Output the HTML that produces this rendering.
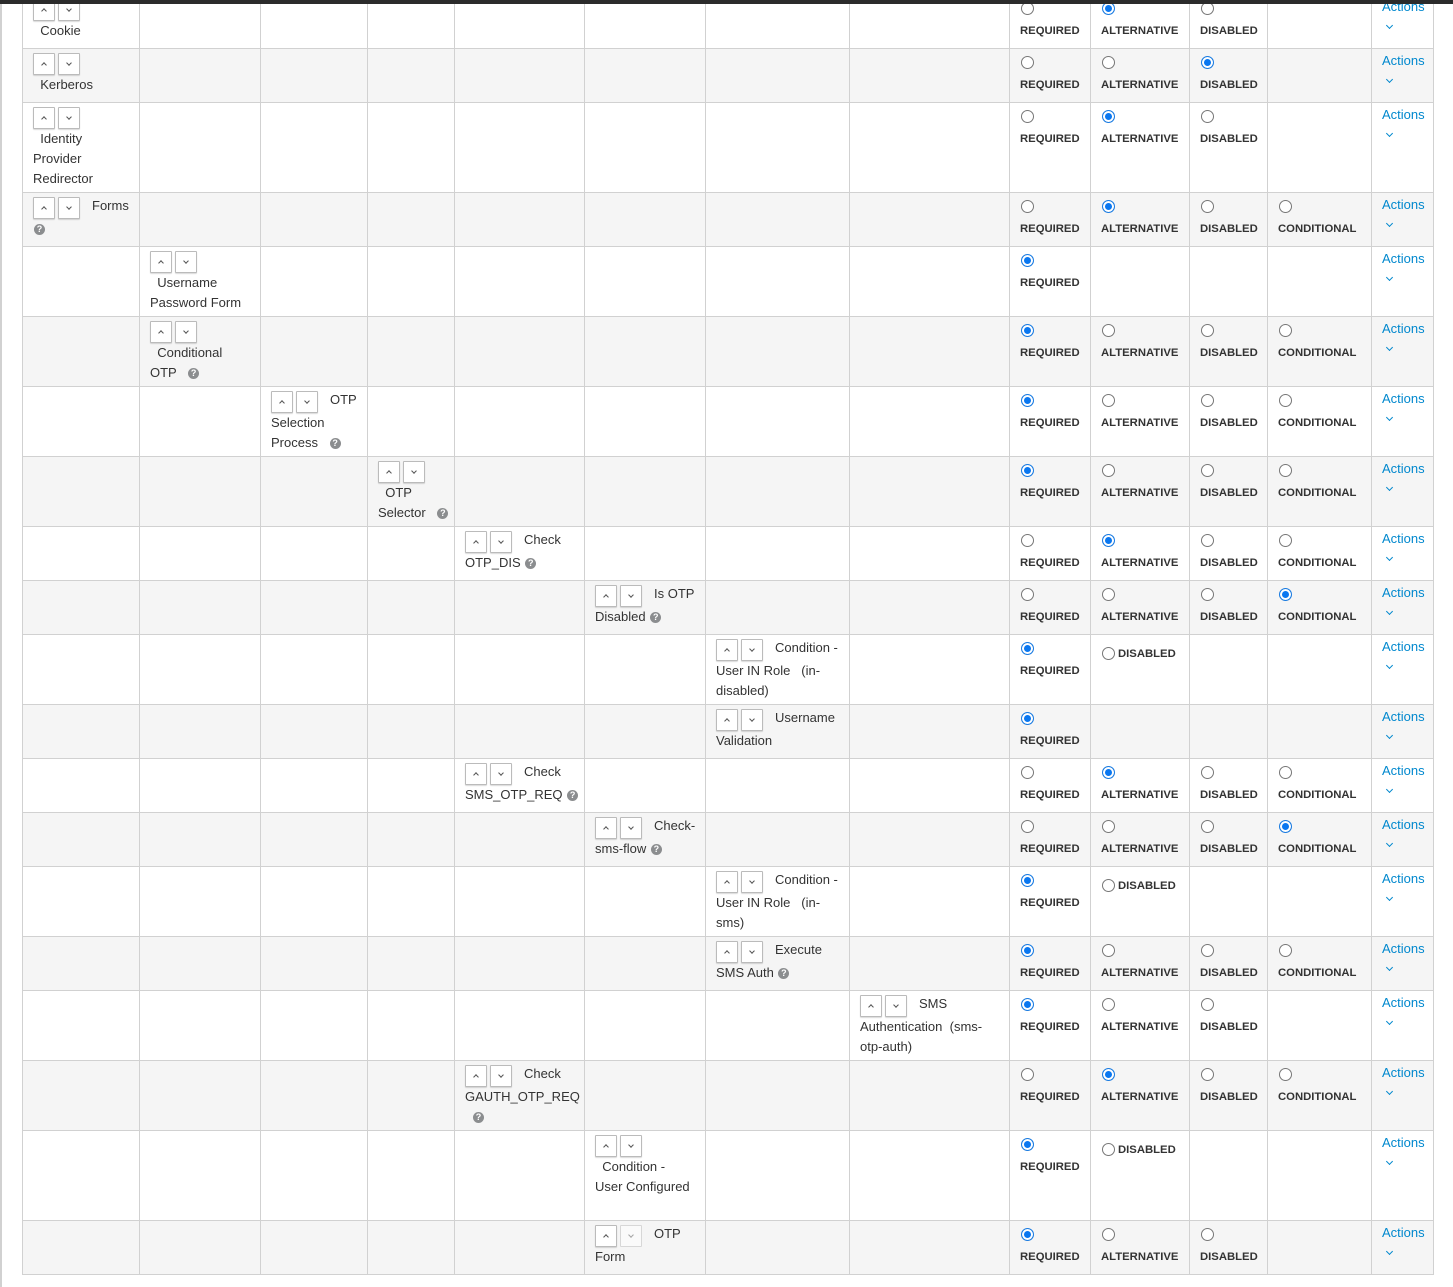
<!DOCTYPE html>
<html><head><meta charset="utf-8">
<style>
body{margin:0;width:1453px;height:1287px;background:#fff;position:relative;overflow:hidden;font-family:"Liberation Sans",sans-serif;color:#333}
.bar{position:absolute;left:0;top:0;width:1453px;height:4px;background:#2b2b2b;z-index:2}
.lft{position:absolute;left:0;top:0;width:2px;height:1287px;background:#d1d1d1}
table{position:absolute;left:22px;top:-6px;border-collapse:collapse;table-layout:fixed;width:1411px}
td{border:1px solid #d1d1d1;vertical-align:top;padding:4px 0 0 10px;font-size:13px;overflow:hidden}
tr:nth-child(even) td{background:#f5f5f5}
.bt{height:22px;white-space:nowrap}
.b{display:inline-block;width:20px;height:20px;border:1px solid #bbb;background:#fff;margin-right:3px;vertical-align:top;position:relative;box-shadow:0 1px 1px rgba(0,0,0,.15);border-radius:1px}
.b::after{content:"";position:absolute;left:8px;width:3px;height:3px;border-left:1px solid #555;border-top:1px solid #555}
.u::after{top:9px;transform:rotate(45deg)}
.d::after{top:7px;transform:rotate(225deg)}
.t{display:inline-block;margin-left:9px;line-height:18px;vertical-align:top}
.n{line-height:20px;white-space:nowrap}
.h{display:inline-block;width:11px;height:11px;border-radius:50%;background:#8b8d8f;color:#fff;font-size:9px;font-weight:bold;line-height:11px;text-align:center;font-style:normal;vertical-align:middle;margin-left:8px}
.n .h:first-child{margin-left:1px}
.r{display:block;width:11px;height:11px;border:1px solid #777;border-radius:50%;background:#fff;margin:3px 0 0 1px}
.c{border-color:#1a7be0;background:#0a77f0;box-shadow:inset 0 0 0 2px #fff}
.l{margin-top:6px;line-height:20px;font-size:11.3px;font-weight:bold;color:#333;white-space:nowrap}
.ri{display:inline-block;vertical-align:middle;margin:8px 3px 0 1px}
.il{font-size:11.3px;font-weight:bold;vertical-align:middle;display:inline-block;margin-top:8px}
.a{color:#0088ce;line-height:20px;margin-top:-2px;font-size:13px}
.ch{display:block;width:4px;height:4px;border-right:1px solid #0088ce;border-bottom:1px solid #0088ce;transform:rotate(45deg);margin:6px 0 0 5px}
</style></head><body>
<div class="lft"></div><div class="bar"></div>
<table>
<colgroup><col style="width:117px"><col style="width:121px"><col style="width:107px"><col style="width:87px"><col style="width:130px"><col style="width:121px"><col style="width:144px"><col style="width:160px"><col style="width:81px"><col style="width:99px"><col style="width:78px"><col style="width:104px"><col style="width:62px"></colgroup>
<tr style="height:54px"><td><div class="bt"><span class="b u"></span><span class="b d"></span></div><div class="n">&nbsp;&nbsp;Cookie</div></td><td></td><td></td><td></td><td></td><td></td><td></td><td></td>
<td><i class="r"></i><div class="l">REQUIRED</div></td><td><i class="r c"></i><div class="l">ALTERNATIVE</div></td><td><i class="r"></i><div class="l">DISABLED</div></td><td></td><td><div class="a">Actions</div><i class="ch"></i></td></tr>
<tr style="height:54px"><td><div class="bt"><span class="b u"></span><span class="b d"></span></div><div class="n">&nbsp;&nbsp;Kerberos</div></td><td></td><td></td><td></td><td></td><td></td><td></td><td></td>
<td><i class="r"></i><div class="l">REQUIRED</div></td><td><i class="r"></i><div class="l">ALTERNATIVE</div></td><td><i class="r c"></i><div class="l">DISABLED</div></td><td></td><td><div class="a">Actions</div><i class="ch"></i></td></tr>
<tr style="height:90px"><td><div class="bt"><span class="b u"></span><span class="b d"></span></div><div class="n">&nbsp;&nbsp;Identity<br>Provider<br>Redirector</div></td><td></td><td></td><td></td><td></td><td></td><td></td><td></td>
<td><i class="r"></i><div class="l">REQUIRED</div></td><td><i class="r c"></i><div class="l">ALTERNATIVE</div></td><td><i class="r"></i><div class="l">DISABLED</div></td><td></td><td><div class="a">Actions</div><i class="ch"></i></td></tr>
<tr style="height:54px"><td><div class="bt"><span class="b u"></span><span class="b d"></span><span class="t">Forms</span></div><div class="n"><i class="h">?</i></div></td><td></td><td></td><td></td><td></td><td></td><td></td><td></td>
<td><i class="r"></i><div class="l">REQUIRED</div></td><td><i class="r c"></i><div class="l">ALTERNATIVE</div></td><td><i class="r"></i><div class="l">DISABLED</div></td><td><i class="r"></i><div class="l">CONDITIONAL</div></td><td><div class="a">Actions</div><i class="ch"></i></td></tr>
<tr style="height:70px"><td></td><td><div class="bt"><span class="b u"></span><span class="b d"></span></div><div class="n">&nbsp;&nbsp;Username<br>Password Form</div></td><td></td><td></td><td></td><td></td><td></td><td></td>
<td><i class="r c"></i><div class="l">REQUIRED</div></td><td></td><td></td><td></td><td><div class="a">Actions</div><i class="ch"></i></td></tr>
<tr style="height:70px"><td></td><td><div class="bt"><span class="b u"></span><span class="b d"></span></div><div class="n">&nbsp;&nbsp;Conditional<br>OTP <i class="h">?</i></div></td><td></td><td></td><td></td><td></td><td></td><td></td>
<td><i class="r c"></i><div class="l">REQUIRED</div></td><td><i class="r"></i><div class="l">ALTERNATIVE</div></td><td><i class="r"></i><div class="l">DISABLED</div></td><td><i class="r"></i><div class="l">CONDITIONAL</div></td><td><div class="a">Actions</div><i class="ch"></i></td></tr>
<tr style="height:70px"><td></td><td></td><td><div class="bt"><span class="b u"></span><span class="b d"></span><span class="t">OTP</span></div><div class="n">Selection<br>Process <i class="h">?</i></div></td><td></td><td></td><td></td><td></td><td></td>
<td><i class="r c"></i><div class="l">REQUIRED</div></td><td><i class="r"></i><div class="l">ALTERNATIVE</div></td><td><i class="r"></i><div class="l">DISABLED</div></td><td><i class="r"></i><div class="l">CONDITIONAL</div></td><td><div class="a">Actions</div><i class="ch"></i></td></tr>
<tr style="height:70px"><td></td><td></td><td></td><td><div class="bt"><span class="b u"></span><span class="b d"></span></div><div class="n">&nbsp;&nbsp;OTP<br>Selector <i class="h">?</i></div></td><td></td><td></td><td></td><td></td>
<td><i class="r c"></i><div class="l">REQUIRED</div></td><td><i class="r"></i><div class="l">ALTERNATIVE</div></td><td><i class="r"></i><div class="l">DISABLED</div></td><td><i class="r"></i><div class="l">CONDITIONAL</div></td><td><div class="a">Actions</div><i class="ch"></i></td></tr>
<tr style="height:54px"><td></td><td></td><td></td><td></td><td><div class="bt"><span class="b u"></span><span class="b d"></span><span class="t">Check</span></div><div class="n">OTP_DIS <i class="h">?</i></div></td><td></td><td></td><td></td>
<td><i class="r"></i><div class="l">REQUIRED</div></td><td><i class="r c"></i><div class="l">ALTERNATIVE</div></td><td><i class="r"></i><div class="l">DISABLED</div></td><td><i class="r"></i><div class="l">CONDITIONAL</div></td><td><div class="a">Actions</div><i class="ch"></i></td></tr>
<tr style="height:54px"><td></td><td></td><td></td><td></td><td></td><td><div class="bt"><span class="b u"></span><span class="b d"></span><span class="t">Is OTP</span></div><div class="n">Disabled <i class="h">?</i></div></td><td></td><td></td>
<td><i class="r"></i><div class="l">REQUIRED</div></td><td><i class="r"></i><div class="l">ALTERNATIVE</div></td><td><i class="r"></i><div class="l">DISABLED</div></td><td><i class="r c"></i><div class="l">CONDITIONAL</div></td><td><div class="a">Actions</div><i class="ch"></i></td></tr>
<tr style="height:70px"><td></td><td></td><td></td><td></td><td></td><td></td><td><div class="bt"><span class="b u"></span><span class="b d"></span><span class="t">Condition -</span></div><div class="n">User IN Role &nbsp; (in-<br>disabled)</div></td><td></td>
<td><i class="r c"></i><div class="l">REQUIRED</div></td><td><i class="r ri"></i><span class="il">DISABLED</span></td><td></td><td></td><td><div class="a">Actions</div><i class="ch"></i></td></tr>
<tr style="height:54px"><td></td><td></td><td></td><td></td><td></td><td></td><td><div class="bt"><span class="b u"></span><span class="b d"></span><span class="t">Username</span></div><div class="n">Validation</div></td><td></td>
<td><i class="r c"></i><div class="l">REQUIRED</div></td><td></td><td></td><td></td><td><div class="a">Actions</div><i class="ch"></i></td></tr>
<tr style="height:54px"><td></td><td></td><td></td><td></td><td><div class="bt"><span class="b u"></span><span class="b d"></span><span class="t">Check</span></div><div class="n">SMS_OTP_REQ <i class="h">?</i></div></td><td></td><td></td><td></td>
<td><i class="r"></i><div class="l">REQUIRED</div></td><td><i class="r c"></i><div class="l">ALTERNATIVE</div></td><td><i class="r"></i><div class="l">DISABLED</div></td><td><i class="r"></i><div class="l">CONDITIONAL</div></td><td><div class="a">Actions</div><i class="ch"></i></td></tr>
<tr style="height:54px"><td></td><td></td><td></td><td></td><td></td><td><div class="bt"><span class="b u"></span><span class="b d"></span><span class="t">Check-</span></div><div class="n">sms-flow <i class="h">?</i></div></td><td></td><td></td>
<td><i class="r"></i><div class="l">REQUIRED</div></td><td><i class="r"></i><div class="l">ALTERNATIVE</div></td><td><i class="r"></i><div class="l">DISABLED</div></td><td><i class="r c"></i><div class="l">CONDITIONAL</div></td><td><div class="a">Actions</div><i class="ch"></i></td></tr>
<tr style="height:70px"><td></td><td></td><td></td><td></td><td></td><td></td><td><div class="bt"><span class="b u"></span><span class="b d"></span><span class="t">Condition -</span></div><div class="n">User IN Role &nbsp; (in-<br>sms)</div></td><td></td>
<td><i class="r c"></i><div class="l">REQUIRED</div></td><td><i class="r ri"></i><span class="il">DISABLED</span></td><td></td><td></td><td><div class="a">Actions</div><i class="ch"></i></td></tr>
<tr style="height:54px"><td></td><td></td><td></td><td></td><td></td><td></td><td><div class="bt"><span class="b u"></span><span class="b d"></span><span class="t">Execute</span></div><div class="n">SMS Auth <i class="h">?</i></div></td><td></td>
<td><i class="r c"></i><div class="l">REQUIRED</div></td><td><i class="r"></i><div class="l">ALTERNATIVE</div></td><td><i class="r"></i><div class="l">DISABLED</div></td><td><i class="r"></i><div class="l">CONDITIONAL</div></td><td><div class="a">Actions</div><i class="ch"></i></td></tr>
<tr style="height:70px"><td></td><td></td><td></td><td></td><td></td><td></td><td></td><td><div class="bt"><span class="b u"></span><span class="b d"></span><span class="t">SMS</span></div><div class="n">Authentication &nbsp;(sms-<br>otp-auth)</div></td>
<td><i class="r c"></i><div class="l">REQUIRED</div></td><td><i class="r"></i><div class="l">ALTERNATIVE</div></td><td><i class="r"></i><div class="l">DISABLED</div></td><td></td><td><div class="a">Actions</div><i class="ch"></i></td></tr>
<tr style="height:70px"><td></td><td></td><td></td><td></td><td><div class="bt"><span class="b u"></span><span class="b d"></span><span class="t">Check</span></div><div class="n">GAUTH_OTP_REQ<br><i class="h">?</i></div></td><td></td><td></td><td></td>
<td><i class="r"></i><div class="l">REQUIRED</div></td><td><i class="r c"></i><div class="l">ALTERNATIVE</div></td><td><i class="r"></i><div class="l">DISABLED</div></td><td><i class="r"></i><div class="l">CONDITIONAL</div></td><td><div class="a">Actions</div><i class="ch"></i></td></tr>
<tr style="height:90px"><td></td><td></td><td></td><td></td><td></td><td><div class="bt"><span class="b u"></span><span class="b d"></span></div><div class="n">&nbsp;&nbsp;Condition -<br>User Configured</div></td><td></td><td></td>
<td><i class="r c"></i><div class="l">REQUIRED</div></td><td><i class="r ri"></i><span class="il">DISABLED</span></td><td></td><td></td><td><div class="a">Actions</div><i class="ch"></i></td></tr>
<tr style="height:54px"><td></td><td></td><td></td><td></td><td></td><td><div class="bt"><span class="b u"></span><span class="b d" style="opacity:.5;box-shadow:none"></span><span class="t">OTP</span></div><div class="n">Form</div></td><td></td><td></td>
<td><i class="r c"></i><div class="l">REQUIRED</div></td><td><i class="r"></i><div class="l">ALTERNATIVE</div></td><td><i class="r"></i><div class="l">DISABLED</div></td><td></td><td><div class="a">Actions</div><i class="ch"></i></td></tr>
</table>
</body></html>
